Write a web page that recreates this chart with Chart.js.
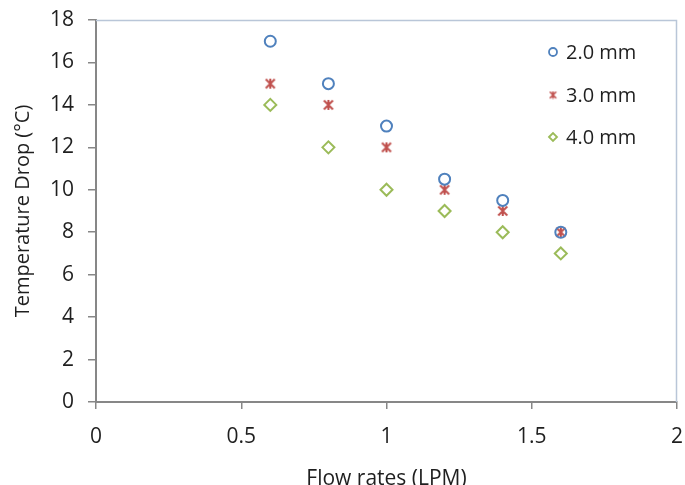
<!DOCTYPE html>
<html>
<head>
<meta charset="utf-8">
<script src="https://cdn.jsdelivr.net/npm/chart.js@4/dist/chart.umd.min.js"></script>
<style>
	html, body { margin: 0; padding: 0; background: #fff; }
	#wrap { width: 685px; height: 485px; }
</style>
</head>
<body>
<div id="wrap"><canvas id="tempChart" width="685" height="485"></canvas></div>
<script>
var flowRates = [0.6, 0.8, 1.0, 1.2, 1.4, 1.6];
var drop20 = [17, 15, 13, 10.5, 9.5, 8];
var drop30 = [15, 14, 12, 10, 9, 8];
var drop40 = [14, 12, 10, 9, 8, 7];
var seriesNames = ['2.0 mm', '3.0 mm', '4.0 mm'];
var xTicks = [0, 0.5, 1, 1.5, 2];
var yTicks = [0, 2, 4, 6, 8, 10, 12, 14, 16, 18];

function toPoints(ys) {
	var pts = [];
	for(var i = 0; i < flowRates.length; i++) {
		pts.push({ x: flowRates[i], y: ys[i] });
	}
	return pts;
}

var fontFam = '"Open Sans", Lato, sans-serif';
var textCol = '#1f1f1f';

// excel-like star marker: an X with a vertical stroke
function makeStar(size, color, lw) {
	var cv = document.createElement('canvas');
	cv.width = size;
	cv.height = size;
	var c = cv.getContext('2d');
	var m = lw / 2 + 0.5;
	c.strokeStyle = color;
	c.lineWidth = lw;
	c.beginPath();
	c.moveTo(m, m); c.lineTo(size - m, size - m);
	c.moveTo(size - m, m); c.lineTo(m, size - m);
	c.moveTo(size / 2, m - 0.5); c.lineTo(size / 2, size - m + 0.5);
	c.stroke();
	return cv;
}
var starBig = makeStar(12, '#c0504d', 2);
var starSmall = makeStar(9, '#c0504d', 1.6);

// light box around the plot + legend inside the plot area
var boxAndLegend = {
	id: 'boxAndLegend',
	beforeDatasetsDraw: function(chart) {
		var c = chart.ctx, a = chart.chartArea;
		c.save();
		c.strokeStyle = '#b9c6d8';
		c.lineWidth = 1.5;
		c.beginPath();
		c.moveTo(a.left, a.top + 0.5);
		c.lineTo(a.right - 0.5, a.top + 0.5);
		c.lineTo(a.right - 0.5, a.bottom);
		c.stroke();
		c.restore();
	},
	afterDraw: function(chart) {
		var c = chart.ctx;
		var ys = [52, 95, 137];
		c.save();
		c.font = '20px ' + fontFam;
		c.textBaseline = 'middle';
		chart.data.datasets.forEach(function(ds, i) {
			c.save();
			c.strokeStyle = ds.borderColor;
			c.fillStyle = 'rgba(0,0,0,0)';
			c.lineWidth = 1.8;
			Chart.helpers.drawPoint(c, {
				pointStyle: ds.pointStyle === starBig ? starSmall : ds.pointStyle,
				radius: 4,
				borderWidth: 1.8
			}, 553, ys[i]);
			c.restore();
			c.fillStyle = textCol;
			c.fillText(ds.label, 566, ys[i] + 1);
		});
		c.restore();
	}
};

var ctx = document.getElementById('tempChart').getContext('2d');
var chart = new Chart(ctx, {
	type: 'scatter',
	data: {
		datasets: [{
			label: seriesNames[0],
			data: toPoints(drop20),
			pointStyle: 'circle',
			pointRadius: 5.5,
			borderColor: '#4f81bd',
			backgroundColor: 'rgba(0,0,0,0)',
			pointBorderWidth: 2
		}, {
			label: seriesNames[1],
			data: toPoints(drop30),
			pointStyle: starBig,
			pointRadius: 6,
			borderColor: '#c0504d',
			backgroundColor: 'rgba(0,0,0,0)',
			pointBorderWidth: 2
		}, {
			label: seriesNames[2],
			data: toPoints(drop40),
			pointStyle: 'rectRot',
			pointRadius: 6,
			borderColor: '#9bbb59',
			backgroundColor: 'rgba(0,0,0,0)',
			pointBorderWidth: 2
		}]
	},
	options: {
		responsive: false,
		animation: false,
		layout: { padding: { top: 20, right: 5, left: 0, bottom: 0 } },
		plugins: {
			legend: { display: false },
			tooltip: { enabled: false }
		},
		scales: {
			x: {
				type: 'linear',
				min: 0,
				max: 2,
				afterBuildTicks: function(scale) {
					scale.ticks = xTicks.map(function(v) { return { value: v }; });
				},
				afterFit: function(scale) {
					scale.height = 83;
					scale.paddingRight = 0;
					scale.paddingLeft = 0;
				},
				grid: {
					display: true,
					drawOnChartArea: false,
					drawTicks: true,
					tickLength: 7,
					color: '#878787',
					lineWidth: 1.5
				},
				border: { color: '#878787', width: 2 },
				ticks: {
					color: textCol,
					font: { family: fontFam, size: 21 },
					padding: 15,
					maxRotation: 0,
					callback: function(v) { return v; }
				},
				title: {
					display: true,
					text: 'Flow rates (LPM)',
					color: textCol,
					font: { family: fontFam, size: 21, lineHeight: 1 },
					padding: { top: 0, bottom: -5 }
				}
			},
			y: {
				type: 'linear',
				min: 0,
				max: 18,
				afterBuildTicks: function(scale) {
					scale.ticks = yTicks.map(function(v) { return { value: v }; });
				},
				afterFit: function(scale) {
					scale.width = 96;
					scale.paddingTop = 0;
					scale.paddingBottom = 0;
				},
				grid: {
					display: true,
					drawOnChartArea: false,
					drawTicks: true,
					tickLength: 8,
					color: '#878787',
					lineWidth: 1.5
				},
				border: { color: '#878787', width: 2 },
				ticks: {
					color: textCol,
					font: { family: fontFam, size: 21 },
					padding: 14
				},
				title: {
					display: true,
					text: 'Temperature Drop (°C)',
					color: textCol,
					font: { family: fontFam, size: 20 },
					padding: { top: 11, bottom: 0 }
				}
			}
		}
	},
	plugins: [boxAndLegend]
});
</script>
</body>
</html>
